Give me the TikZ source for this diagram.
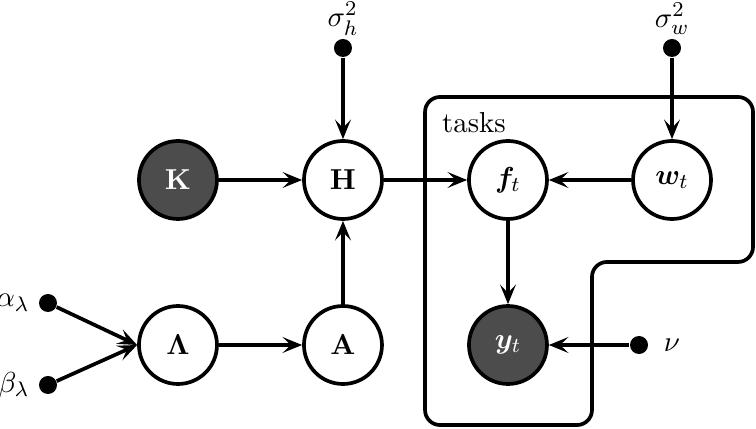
\documentclass[11pt,tikz,border=0pt]{standalone}
\usepackage{amsmath,bm}
\usetikzlibrary{arrows.meta,positioning}
\tikzset{
	latent/.style={circle,draw,line width=1.4pt,minimum size=1.04cm,inner sep=0pt},
	obs/.style={latent,fill=black!70,text=white},
	hyper/.style={circle,fill=black,inner sep=0pt,minimum size=0.24cm},
	hlabel/.style={inner sep=1pt},
	edge/.style={line width=1.4pt,-{Stealth[length=2.6mm,width=2.1mm,inset=1.1mm]}}
}
\begin{document}
\begin{tikzpicture}
	\useasboundingbox (0,0) rectangle (10.08,-5.707);
	% plate
	\draw[line width=1.4pt,rounded corners=0.2cm] (5.667,-1.293) -- (10.04,-1.293) -- (10.04,-3.493) -- (7.893,-3.493) -- (7.893,-5.667) -- (5.667,-5.667) -- cycle;
	\node (tasks) at (6.32,-1.64) {tasks};
	% nodes
	\node[obs] (K) at (2.373,-2.4) {$\mathbf{K}$};
	\node[latent] (H) at (4.573,-2.4) {$\mathbf{H}$};
	\node[latent] (f) at (6.773,-2.4) {$\bm{f}_t$};
	\node[latent] (w) at (8.96,-2.4) {$\bm{w}_t$};
	\node[latent] (Lam) at (2.373,-4.6) {$\bm{\Lambda}$};
	\node[latent] (A) at (4.573,-4.6) {$\mathbf{A}$};
	\node[obs] (y) at (6.773,-4.6) {$\bm{y}_t$};
	% hyperparameters
	\node[hyper] (sh) at (4.573,-0.64) {};
	\node[hlabel] (shlabel) at (4.573,-0.25) {$\sigma_h^2$};
	\node[hyper] (sw) at (8.96,-0.64) {};
	\node[hlabel] (swlabel) at (8.96,-0.25) {$\sigma_w^2$};
	\node[hyper] (al) at (0.64,-4.04) {};
	\node[hlabel,left=0.08cm of al] (allabel) {$\alpha_\lambda$};
	\node[hyper] (be) at (0.64,-5.133) {};
	\node[hlabel,left=0.08cm of be] (belabel) {$\beta_\lambda$};
	\node[hyper] (nu) at (8.52,-4.6) {};
	\node[hlabel] (nulabel) at (8.96,-4.6) {$\nu$};
	% edges
	\draw[edge] (K) -- (H);
	\draw[edge] (H) -- (f);
	\draw[edge] (w) -- (f);
	\draw[edge] (f) -- (y);
	\draw[edge] (nu) -- (y);
	\draw[edge] (sh) -- (H);
	\draw[edge] (sw) -- (w);
	\draw[edge] (al) -- (Lam.west);
	\draw[edge] (be) -- (Lam.west);
	\draw[edge] (Lam) -- (A);
	\draw[edge] (A) -- (H);
\end{tikzpicture}
\end{document}
